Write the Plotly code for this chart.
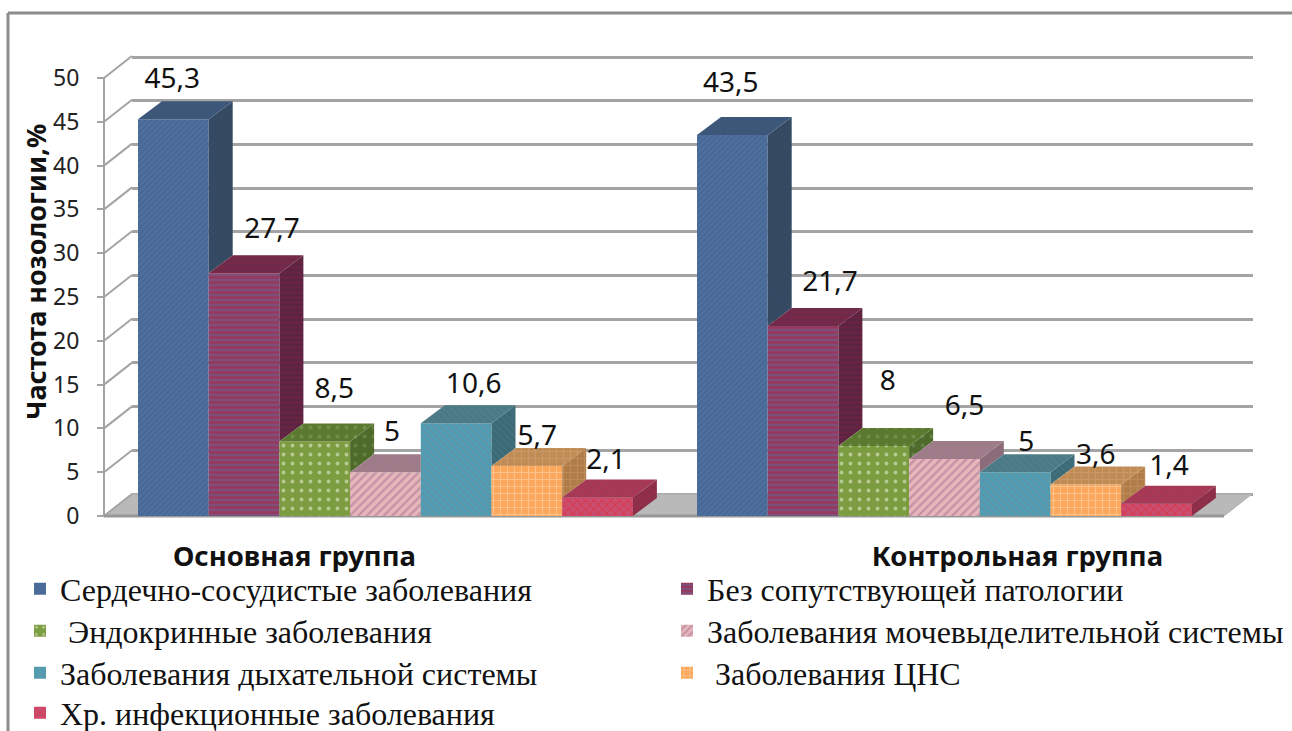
import plotly.graph_objects as go

# ---------- data ----------
groups = ["Основная группа", "Контрольная группа"]
series = [
    "Сердечно-сосудистые заболевания",
    "Без сопутствующей патологии",
    "\u00a0Эндокринные заболевания",
    "Заболевания мочевыделительной системы",
    "Заболевания дыхательной системы",
    "\u00a0Заболевания ЦНС",
    "Хр. инфекционные заболевания",
]
main_group = [45.3, 27.7, 8.5, 5, 10.6, 5.7, 2.1]
control_group = [43.5, 21.7, 8, 6.5, 5, 3.6, 1.4]
y_ticks = [0, 5, 10, 15, 20, 25, 30, 35, 40, 45, 50]
y_title = "Частота нозологии,%"

# ---------- style / layout ----------
W, H = 1292, 731
PX_X = 70.7           # px per bar
PX_Y = 8.76           # px per percent
X0, Y0 = 138, 516     # px of first bar's left edge / value zero
GROUP2_START = (697 - X0) / PX_X
BAR_DX, BAR_DY = 24 / PX_X, 18 / PX_Y
WALL_DX, WALL_DY = 28 / PX_X, 22 / PX_Y
AXIS_X = (104 - X0) / PX_X
FLOOR_END = (1224 - X0) / PX_X
GRID = "#a4a4a4"
TICK_FONT = "Noto Sans"
# colours per series: face, pattern shape, pattern ink, side, top
bg = ["#4f709f", "#7f4f7c", "#7c9c40", "#e8b6ba", "#4c9fb6", "#fba75c", "#c94f70"]
fg = ["#3c5a88", "#b01f3c", "#f2f5e4", "#9b7190", "#728a95", "#ffdcb8", "#e8202f"]
shp = ["/", "-", ".", "/", "\\", "+", "x"]
psz = [4, 5, 9, 6, 5, 7, 6]
sol = [0.4, 0.5, 0.14, 0.4, 0.45, 0.3, 0.35]
side = ["#34495f", "#5a2442", "#4f6b2b", "#8b6b78", "#3a6a76", "#b07c48", "#8a2f4a"]
top = ["#3c5678", "#6d2a4a", "#5b7a30", "#9e7c88", "#4a7a86", "#c08c56", "#a23a58"]
# label centre relative to bar centre / top, px
label_shift_main = [(-1, -38.5), (28, -42.5), (19.5, -50.5), (6.5, -38.5), (17.5, -37.5), (10.5, -28.5), (8.5, -35.5)]
label_shift_ctrl = [(-1.5, -49.5), (27, -41.5), (14, -62.5), (20, -51.5), (11, -28.5), (10, -27.5), (12.5, -35.5)]
legend_pos = [(20, 589), (667, 589), (20, 631), (667, 631), (20, 673), (667, 673), (20, 713)]
group_label_shift = [-91, 73]  # px from group centre

fig = go.Figure()
# invisible carrier so that the back-wall axes (and their gridlines) are drawn
fig.add_trace(go.Scatter(x=[0, 1], y=[0, 50], mode="lines", line=dict(width=0, color="rgba(0,0,0,0)"),
                         showlegend=False, hoverinfo="skip"))
xa, ya = "x2", "y2"
# floor + left wall (below the bars)
fig.add_trace(go.Scatter(
    x=[AXIS_X, AXIS_X + WALL_DX, FLOOR_END + WALL_DX, FLOOR_END, AXIS_X],
    y=[0, WALL_DY, WALL_DY, 0, 0], mode="lines", fill="toself", fillcolor="#b9b9b9",
    line=dict(color="#b0b0b0", width=1), showlegend=False, hoverinfo="skip", xaxis=xa, yaxis=ya))
for t in y_ticks:
    fig.add_trace(go.Scatter(x=[AXIS_X, AXIS_X + WALL_DX], y=[t, t + WALL_DY], mode="lines",
                             line=dict(color=GRID, width=2), showlegend=False, hoverinfo="skip", xaxis=xa, yaxis=ya))
fig.add_trace(go.Scatter(x=[AXIS_X, AXIS_X], y=[0, max(y_ticks)], mode="lines",
                         line=dict(color=GRID, width=2), showlegend=False, hoverinfo="skip", xaxis=xa, yaxis=ya))
fig.add_trace(go.Scatter(x=[AXIS_X, FLOOR_END], y=[0, 0], mode="lines",
                         line=dict(color="#989898", width=3), showlegend=False, hoverinfo="skip", xaxis=xa, yaxis=ya))

# front faces
xa, ya = "x3", "y3"
n = len(series)
for i, name in enumerate(series):
    fig.add_trace(go.Bar(
        x=[i + 0.5, GROUP2_START + i + 0.5], y=[main_group[i], control_group[i]], width=1, name=name,
        marker=dict(color=bg[i], line=dict(width=0),
                    pattern=dict(shape=shp[i], fgcolor=fg[i], bgcolor=bg[i], size=psz[i], solidity=sol[i])),
        legend="legend" if i == 0 else f"legend{i + 1}", hoverinfo="skip", xaxis=xa, yaxis=ya))

# side + top faces, clipped by the bar in front of them
for start, vals in ((0, main_group), (GROUP2_START, control_group)):
    for i, v in enumerate(vals):
        x0, x1 = start + i, start + i + 1
        nxt = vals[i + 1] if i + 1 < n else 0
        if nxt < v:
            fig.add_trace(go.Scatter(
                x=[x1, x1 + BAR_DX, x1 + BAR_DX, x1, x1], y=[v, v + BAR_DY, nxt + BAR_DY, nxt, v],
                mode="lines", fill="toself", fillcolor=side[i], line=dict(width=0),
                fillpattern=dict(shape=shp[i], fgcolor=fg[i], bgcolor=side[i], fgopacity=0.15,
                                 size=psz[i], solidity=sol[i]),
                showlegend=False, hoverinfo="skip", xaxis=xa, yaxis=ya))
        right = x1 + BAR_DX if nxt < v else x1
        fig.add_trace(go.Scatter(
            x=[x0, x0 + BAR_DX, right, x1, x0], y=[v, v + BAR_DY, v + BAR_DY, v, v],
            mode="lines", fill="toself", fillcolor=top[i], line=dict(width=0),
            fillpattern=dict(shape=shp[i], fgcolor=fg[i], bgcolor=top[i], fgopacity=0.15,
                             size=psz[i], solidity=sol[i]),
            showlegend=False, hoverinfo="skip", xaxis=xa, yaxis=ya))

# value labels
for start, vals, shifts in ((0, main_group, label_shift_main), (GROUP2_START, control_group, label_shift_ctrl)):
    fig.add_trace(go.Scatter(
        x=[start + i + 0.5 + shifts[i][0] / PX_X for i in range(n)],
        y=[vals[i] - shifts[i][1] / PX_Y for i in range(n)],
        text=[str(v).replace(".", ",") for v in vals], mode="text", textposition="middle center",
        textfont=dict(family=TICK_FONT, size=28, color="#111111"),
        showlegend=False, hoverinfo="skip", xaxis=xa, yaxis=ya))

full_x = [-X0 / PX_X, (W - X0) / PX_X]
full_y = [-(H - Y0) / PX_Y, Y0 / PX_Y]
group_centres = [n / 2, GROUP2_START + n / 2]
layout = dict(
    width=W, height=H, margin=dict(l=0, r=0, t=0, b=0, pad=0, autoexpand=False), autosize=False,
    paper_bgcolor="white", plot_bgcolor="rgba(0,0,0,0)", barmode="overlay",
    # back wall gridlines: range is padded so the 50 line is not at the subplot's edge
    xaxis=dict(domain=[132 / W, 1253 / W], range=[0, 1], showgrid=False, zeroline=False, showticklabels=False, ticks=""),
    yaxis=dict(domain=[1 - (494 + 8.74) / H, 1 - (57 - 8.74) / H], range=[-1, 51], tickvals=y_ticks,
               showticklabels=False, ticks="", showgrid=True, gridcolor=GRID, gridwidth=2.5, zeroline=False),
    xaxis2=dict(domain=[0, 1], range=full_x, visible=False, anchor="y2"),
    yaxis2=dict(domain=[0, 1], range=full_y, visible=False, anchor="x2"),
    xaxis3=dict(domain=[0, 1], range=full_x, anchor="free", position=1 - Y0 / H,
                tickvals=[group_centres[k] + group_label_shift[k] / PX_X for k in range(2)], ticktext=groups,
                ticks="", ticklabelstandoff=21, showgrid=False, zeroline=False, showline=False,
                tickfont=dict(family=TICK_FONT, size=27.5, color="#111111", weight="bold")),
    yaxis3=dict(domain=[0, 1], range=full_y, anchor="free", position=104 / W,
                tickvals=y_ticks, ticks="outside", ticklen=7, tickwidth=2, tickcolor=GRID,
                ticklabelstandoff=13,
                showgrid=False, zeroline=False, showline=False,
                tickfont=dict(family=TICK_FONT, size=23, color="#222222")),
    shapes=[dict(type="line", xref="paper", yref="paper", x0=8 / W, x1=8 / W, y0=0, y1=1 - 13 / H,
                 line=dict(color="#8c8c8c", width=3)),
            dict(type="line", xref="paper", yref="paper", x0=8 / W, x1=1, y0=1 - 13 / H, y1=1 - 13 / H,
                 line=dict(color="#8c8c8c", width=3))],
    annotations=[dict(text=f"<b>{y_title}</b>", xref="paper", yref="paper", x=35 / W, y=1 - 272 / H,
                      showarrow=False, textangle=-90, xanchor="center", yanchor="middle",
                      font=dict(family=TICK_FONT, size=27, color="#111111"))],
)
for i, (lx, ly) in enumerate(legend_pos):
    key = "legend" if i == 0 else f"legend{i + 1}"
    layout[key] = dict(x=lx / W, y=1 - ly / H, xanchor="left", yanchor="middle", bgcolor="rgba(0,0,0,0)",
                       borderwidth=0, font=dict(family="Liberation Serif", size=32, color="#111111"),
                       itemclick=False, itemdoubleclick=False)
fig.update_layout(**layout)
fig.write_html("out.html", config=dict(displayModeBar=False),
               post_script="document.body.style.margin='0';document.documentElement.style.overflow='hidden';")
